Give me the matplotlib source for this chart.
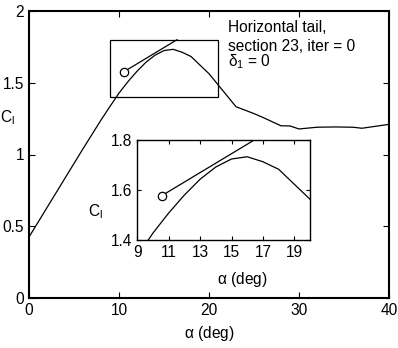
import matplotlib
matplotlib.use("Agg")
import matplotlib.pyplot as plt
from matplotlib.patches import Rectangle

plt.rcParams['font.family'] = ['Liberation Sans', 'DejaVu Sans']
plt.rcParams['mathtext.fontset'] = 'custom'
plt.rcParams['mathtext.rm'] = 'Liberation Sans'
plt.rcParams['mathtext.it'] = 'Liberation Sans'

alpha = [0, 2, 4, 6, 8, 9, 10, 11, 12, 13, 14, 15, 16, 17, 18, 19, 20,
         23, 25, 26, 28, 29, 30, 32, 34, 36, 37, 40]
cl = [0.425, 0.63, 0.835, 1.04, 1.24, 1.335, 1.428, 1.508, 1.58, 1.643, 1.692,
      1.724, 1.733, 1.713, 1.683, 1.623, 1.563,
      1.333, 1.285, 1.258, 1.20, 1.199, 1.178, 1.19, 1.192, 1.19, 1.183, 1.21]
tan_alpha = [10.55, 16.45]
tan_cl = [1.577, 1.80]
zoom_box = [9, 21, 1.4, 1.8]

FS = 11.2
fig = plt.figure(figsize=(3.98, 3.48), dpi=100)
ax = fig.add_axes([29/398, 50/348, 360/398, 287/348])
ax.plot(alpha, cl, color='black', lw=0.9)
ax.plot(tan_alpha, tan_cl, color='black', lw=0.9)
ax.plot(tan_alpha[0], tan_cl[0], 'o', mfc='white', mec='black', ms=6, mew=0.9)
ax.add_patch(Rectangle((zoom_box[0], zoom_box[2]), zoom_box[1]-zoom_box[0],
                       zoom_box[3]-zoom_box[2], fill=False, ec='black', lw=0.9))
ax.set_xlim(0, 40)
ax.set_ylim(0, 2)
ax.set_xticks([0, 10, 20, 30, 40])
ax.set_yticks([0, 0.5, 1, 1.5, 2])
ax.set_yticklabels(['0', '0.5', '1', '1.5', '2'])
ax.tick_params(direction='in', top=True, right=True, labelsize=FS, length=4, width=0.8)
for s in ax.spines.values():
    s.set_linewidth(1.5)
ax.set_xlabel(r'$\alpha$ (deg)', fontsize=FS)
ax.xaxis.set_label_coords(0.5, -0.09)
ax.set_ylabel(r'C$_\mathrm{l}$', fontsize=FS, rotation=0, va='center')
ax.yaxis.set_label_coords(-0.06, 0.63)

ax.text(22.1, 1.852, 'Horizontal tail,', fontsize=FS)
ax.text(22.1, 1.723, 'section 23, iter = 0', fontsize=FS)
ax.text(22.1, 1.612, r'$\delta_1$ = 0', fontsize=FS)

ins = fig.add_axes([137.3/398, 108/348, 172.7/398, 100/348])
ins.plot(alpha, cl, color='black', lw=0.9)
ins.plot(tan_alpha, tan_cl, color='black', lw=0.9)
ins.plot(tan_alpha[0], tan_cl[0], 'o', mfc='white', mec='black', ms=6, mew=0.9)
ins.set_xlim(9, 20)
ins.set_ylim(1.4, 1.8)
ins.set_xticks([9, 11, 13, 15, 17, 19])
ins.set_yticks([1.4, 1.6, 1.8])
ins.tick_params(direction='in', top=True, right=True, labelsize=FS, length=3, width=0.8)
for s in ins.spines.values():
    s.set_linewidth(1.0)
ins.set_xlabel(r'$\alpha$ (deg)', fontsize=FS)
ins.xaxis.set_label_coords(0.606, -0.3)
ins.set_ylabel(r'C$_\mathrm{l}$', fontsize=FS, rotation=0, va='center')
ins.yaxis.set_label_coords(-0.24, 0.28)

fig.savefig('out.png', dpi=100)
